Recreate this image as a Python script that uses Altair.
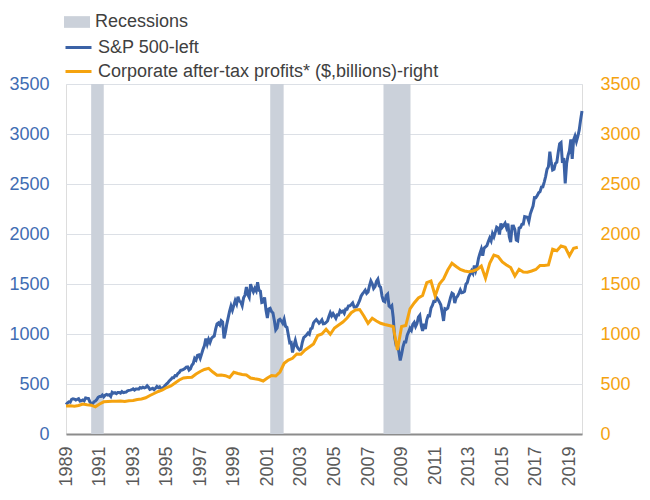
import altair as alt
import pandas as pd

# S&P 500, monthly (first value Mar 1989 as drawn, last Dec 2019)
sp500 = [
    295, 310, 321, 318, 346, 351, 349, 340, 346, 353,
    329, 332, 340, 331, 361, 358, 356, 323, 306, 304, 322, 330,
    344, 367, 375, 375, 390, 371, 387, 395, 388, 392, 375, 417,
    409, 413, 404, 415, 415, 408, 424, 414, 418, 419, 431, 436,
    439, 443, 452, 440, 450, 451, 448, 464, 459, 468, 462, 466,
    482, 467, 446, 451, 457, 444, 458, 475, 463, 472, 454, 459,
    470, 487, 501, 515, 533, 545, 562, 562, 584, 582, 605, 616,
    636, 640, 646, 654, 669, 671, 640, 652, 687, 705, 757, 741,
    786, 791, 757, 801, 848, 885, 954, 899, 947, 915, 955, 970,
    980, 1049, 1102, 1112, 1091, 1134, 1121, 957, 1017, 1099, 1164, 1229,
    1280, 1238, 1286, 1335, 1302, 1373, 1329, 1320, 1283, 1363, 1389, 1469,
    1394, 1366, 1499, 1452, 1421, 1455, 1431, 1518, 1437, 1429, 1315, 1320,
    1366, 1240, 1160, 1249, 1256, 1224, 1211, 1134, 1041, 1060, 1139, 1148,
    1130, 1107, 1147, 1077, 1067, 990, 912, 916, 815, 886, 936, 880,
    856, 841, 848, 917, 964, 975, 990, 1008, 996, 1051, 1058, 1112,
    1131, 1145, 1126, 1107, 1121, 1141, 1102, 1104, 1115, 1130, 1174, 1212,
    1181, 1204, 1181, 1157, 1192, 1191, 1234, 1220, 1229, 1207, 1249, 1248,
    1280, 1281, 1295, 1311, 1270, 1270, 1277, 1304, 1336, 1378, 1401, 1418,
    1438, 1407, 1421, 1482, 1531, 1503, 1455, 1474, 1527, 1549, 1481, 1468,
    1379, 1331, 1323, 1386, 1400, 1280, 1267, 1283, 1165, 969, 896, 903,
    826, 735, 798, 873, 919, 919, 987, 1021, 1057, 1036, 1096, 1115,
    1074, 1104, 1169, 1187, 1089, 1031, 1102, 1049, 1141, 1183, 1181, 1258,
    1286, 1327, 1326, 1364, 1345, 1321, 1292, 1219, 1131, 1253, 1247, 1258,
    1312, 1366, 1408, 1398, 1310, 1362, 1379, 1407, 1441, 1412, 1416, 1426,
    1498, 1515, 1569, 1598, 1631, 1606, 1686, 1633, 1682, 1757, 1806, 1848,
    1783, 1859, 1872, 1884, 1924, 1960, 1931, 2003, 1972, 2018, 2068, 2059,
    1995, 2105, 2068, 2086, 2107, 2063, 2104, 1972, 1920, 2079, 2080, 2044,
    1940, 1932, 2060, 2065, 2097, 2099, 2174, 2171, 2168, 2126, 2199, 2239,
    2279, 2364, 2363, 2384, 2412, 2423, 2470, 2472, 2519, 2575, 2648, 2674,
    2824, 2714, 2641, 2648, 2705, 2718, 2816, 2902, 2914, 2712, 2760, 2507,
    2704, 2784, 2834, 2946, 2752, 2942, 2980, 2926, 2977, 3038, 3141, 3231,
]

# Corporate after-tax profits ($ billions), quarterly 1989Q1 .. 2019Q3
profits = [
    280, 282, 278, 285,
    300, 292, 288, 272,
    300, 322, 325, 327,
    328, 330, 325, 332,
    335, 345, 350, 362,
    385, 405, 425, 440,
    465, 480, 510, 540,
    560, 565, 568, 600,
    625, 645, 657, 620,
    588, 590, 583, 565,
    617, 605, 595, 590,
    560, 552, 545, 530,
    560, 585, 580, 620,
    707, 740, 757, 800,
    797, 840, 870, 900,
    985, 1000, 1047, 997,
    1060, 1090, 1120, 1160,
    1213, 1240, 1245, 1180,
    1107, 1157, 1130, 1107,
    1095, 1085, 1075, 840,
    1075, 1085, 1250, 1310,
    1360, 1385, 1513, 1530,
    1380, 1500, 1550, 1640,
    1707, 1675, 1645, 1630,
    1623, 1630, 1645, 1680,
    1557, 1707, 1790, 1775,
    1720, 1690, 1665, 1580,
    1647, 1620, 1617, 1630,
    1645, 1685, 1685, 1690,
    1847, 1833, 1880, 1867,
    1783, 1857, 1867,
]

rec_start = [1990.5, 2001.17, 2007.92]
rec_end = [1991.25, 2001.97, 2009.53]

year_ticks = list(range(1989, 2020, 2))
y_ticks = [0, 500, 1000, 1500, 2000, 2500, 3000, 3500]

SP_NAME = "S&P 500-left"
PR_NAME = "Corporate after-tax profits* ($,billions)-right"
BLUE = "#3B62A6"
ORANGE = "#F5A30F"
GRAY = "#CBD1DA"
FONT = "Liberation Sans"

df_sp = pd.DataFrame({
    "t": [1989 + i / 12 for i in range(len(sp500))],
    "v": sp500,
    "series": SP_NAME,
})
df_pr = pd.DataFrame({
    "t": [1989 + i / 4 for i in range(len(profits))],
    "v": profits,
    "series": PR_NAME,
})
df_rec = pd.DataFrame({"start": rec_start, "end": rec_end, "label": "Recessions"})

x_scale = alt.Scale(domain=[1989, 2019.75], nice=False, zero=False)
x_axis = alt.Axis(
    values=year_ticks, format="d", labelAngle=270, title=None,
    ticks=False, grid=False, domainColor="#8C8C8C", domainWidth=2,
    labelColor="#595959", labelFontSize=18, labelFont=FONT, labelPadding=12,
)
y_scale = alt.Scale(domain=[0, 3500], nice=False)

stroke_enc = alt.Stroke(
    "series:N",
    scale=alt.Scale(domain=[SP_NAME, PR_NAME], range=[BLUE, ORANGE]),
    legend=alt.Legend(
        title=None, orient="none", legendX=-2, legendY=-51,
        symbolType="stroke", symbolSize=676, symbolStrokeWidth=3,
        labelFontSize=18, labelFont=FONT, labelColor="#404040",
        labelOffset=5, rowPadding=-4, labelLimit=500,
    ),
)

rec = alt.Chart(df_rec).mark_rect(opacity=1).encode(
    x=alt.X("start:Q", scale=x_scale, axis=x_axis),
    x2="end:Q",
    fill=alt.Fill(
        "label:N",
        scale=alt.Scale(domain=["Recessions"], range=[GRAY]),
        legend=alt.Legend(
            title=None, orient="none", legendX=-2, legendY=-75,
            symbolType="M-1,-0.45H1V0.45H-1Z", symbolSize=676,
            symbolStrokeWidth=0, symbolOpacity=1,
            labelFontSize=18, labelFont=FONT, labelColor="#404040",
            labelOffset=5,
        ),
    ),
)

sp_line = alt.Chart(df_sp).mark_line(strokeWidth=3).encode(
    x=alt.X("t:Q", scale=x_scale, axis=x_axis),
    y=alt.Y("v:Q", scale=y_scale, axis=alt.Axis(
        values=y_ticks, format="d", title=None, ticks=False, domain=False,
        grid=True, gridColor="#DCE0E6", gridWidth=1,
        labelColor="#3F6DB3", labelFontSize=18, labelFont=FONT, labelPadding=17,
    )),
    stroke=stroke_enc,
)

pr_line = alt.Chart(df_pr).mark_line(strokeWidth=3).encode(
    x=alt.X("t:Q", scale=x_scale, axis=x_axis),
    y=alt.Y("v:Q", scale=y_scale, axis=alt.Axis(
        values=y_ticks, format="d", title=None, ticks=False, domain=False,
        grid=False, orient="right",
        labelColor=ORANGE, labelFontSize=18, labelFont=FONT, labelPadding=18,
    )),
    stroke=stroke_enc,
)

lines = alt.layer(sp_line, pr_line).resolve_scale(y="independent")

chart = alt.layer(rec, lines).properties(
    width=516, height=350,
    padding={"left": 0, "top": 1, "right": 0, "bottom": 0},
).configure_view(stroke=None).configure(background="white")

chart.save("out.html", embed_options={"renderer": "svg", "actions": False})
